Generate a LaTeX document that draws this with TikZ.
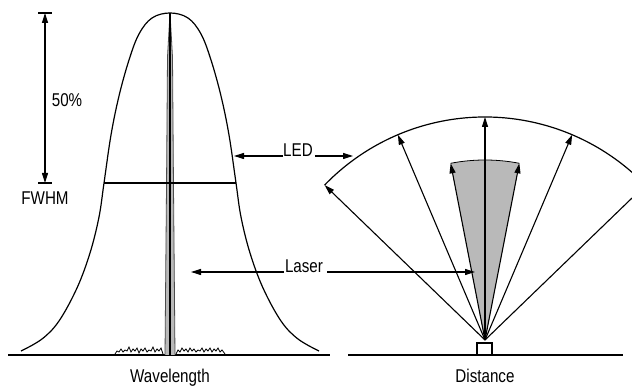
\documentclass[tikz,border=0pt]{standalone}
\usepackage{fontspec}
\setmainfont{Liberation Sans}[FakeStretch=0.82]
\usetikzlibrary{arrows.meta,calc}
\tikzset{
  ln/.style={line width=1.2pt, black},
  thin ln/.style={line width=0.8pt, black},
  arr/.style={line width=1.1pt, -{Triangle[length=10pt,width=6pt]}},
  lbl/.style={font=\fontsize{18.5}{20}\selectfont, inner sep=0pt},
}
\begin{document}
\begin{tikzpicture}[x=1pt,y=1pt]
\clip (0,0) rectangle (632,387);
\fill[white] (0,0) rectangle (632,387);
% axes
\draw[ln] (8,32) -- (330,32);
\draw[ln] (348,32) -- (623,32);
% laser spike (left)
\fill[gray!55] (170,374) -- (167.5,330) -- (166.5,200) -- (165,32) -- (175,32) -- (173.5,200) -- (172.5,330) -- cycle;
\draw[thin ln, gray!60!black] (170,374) -- (167.5,330) -- (166.5,200) -- (165,32);
\draw[thin ln, gray!60!black] (170,374) -- (172.5,330) -- (173.5,200) -- (175,32);
\draw[ln] (170,374) -- (170,32);
% noise
\draw[thin ln] (115,33) -- (117,36) -- (119,35) -- (121,38) -- (123,35) -- (125,37) -- (127,36) -- (129,40) -- (131,35) -- (133,38) -- (135,36) -- (137,39) -- (139,34) -- (141,38) -- (143,36) -- (145,39) -- (147,35) -- (149,37) -- (151,36) -- (153,40) -- (155,35) -- (157,38) -- (159,36) -- (161,39) -- (163,33);
\draw[thin ln] (176,33) -- (178,37) -- (180,35) -- (182,39) -- (184,36) -- (186,38) -- (188,35) -- (190,39) -- (192,36) -- (194,38) -- (196,35) -- (198,37) -- (200,36) -- (202,39) -- (204,35) -- (206,38) -- (208,36) -- (210,39) -- (212,35) -- (214,38) -- (216,36) -- (218,39) -- (220,35) -- (222,37) -- (225,33);
% LED spectrum
\draw[ln] plot[smooth, tension=0.6] coordinates {(21,36) (42,48) (59,66) (77,99) (90,134) (99,170) (104,204) (111,252) (119,291) (129,327) (139,353) (152,369) (170,374) (188,369) (201,353) (211,327) (221,291) (229,252) (236,204) (241,170) (250,134) (263,99) (281,66) (298,48) (319,36)};
% FWHM line
\coordinate (fwl) at (104,204);
\coordinate (fwr) at (236,204);
\draw[ln] (fwl) -- (fwr);
% 50% arrow
\coordinate (ht) at (45,374);
\coordinate (hb) at (45,204);
\draw[line width=1.1pt, {Triangle[length=10pt,width=6pt]}-{Triangle[length=10pt,width=6pt]}] (ht) -- (hb);
\draw[ln] ([xshift=-7pt]ht) -- ([xshift=7pt]ht);
\draw[ln] ([xshift=-7pt]hb) -- ([xshift=7pt]hb);
\node[lbl] (p50) at (67,287) {50\%};
\node[lbl] (fwhm) at (45,189) {FWHM};
% fan (right)
\coordinate (O) at (485,47);
\fill[gray!55] (O) -- ++(79:180) arc[start angle=79, end angle=101, radius=180] -- cycle;
\draw[thin ln] ($(O)+(79:180)$) arc[start angle=79, end angle=101, radius=180];
\draw[ln] ($(O)+(44:223)$) arc[start angle=44, end angle=136, radius=223];
\foreach \a in {44,67,90,113,136} {
  \draw[arr] (O) -- ($(O)+(\a:223)$);
}
\foreach \a in {79,101} {
  \draw[arr] (O) -- ($(O)+(\a:180)$);
}
\draw[ln, fill=white] (477,32) rectangle (492,44);
% labels with arrows
\node[lbl, anchor=base] (led) at (298,230) {LED};
\coordinate (ledL) at (234,231);
\coordinate (ledR) at (353,231);
\draw[arr] (led.west |- ledL) -- (ledL);
\draw[arr] (led.east |- ledR) ++(2,0) -- (ledR);
\node[lbl, anchor=base] (laser) at (304,114) {Laser};
\coordinate (lasL) at (191,115);
\coordinate (lasR) at (475,115);
\draw[arr] (laser.west |- lasL) ++(-1,0) -- (lasL);
\draw[arr] (laser.east |- lasR) ++(4,0) -- (lasR);
\node[lbl, anchor=base] (wl) at (170,4.5) {Wavelength};
\node[lbl, anchor=base] (dist) at (485,4.5) {Distance};
\end{tikzpicture}
\end{document}
